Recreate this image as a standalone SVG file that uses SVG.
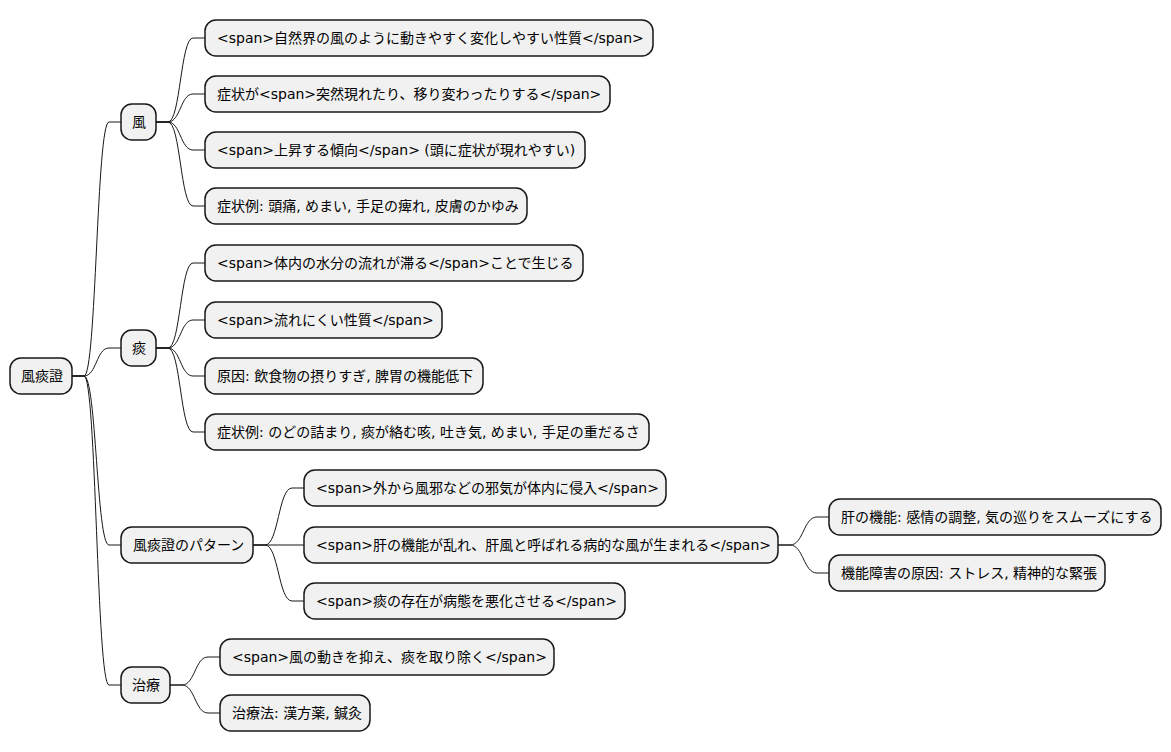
<svg xmlns="http://www.w3.org/2000/svg" width="1171" height="752" viewBox="0 0 1171 752">
<style>
.n rect{fill:#F1F1F1;stroke:#181818;stroke-width:1.5}
.n text{font-family:"DejaVu Sans","Noto Sans CJK JP",sans-serif;font-size:14px;fill:#000}
#edges path{fill:none;stroke:#181818;stroke-width:1}
</style>
<rect width="1171" height="752" fill="#FFFFFF"/>
<g id="edges">
<path d="M72,376 L84,376 C96.5,376 96.5,122 109,122 L121,122"/>
<path d="M72,376 L84,376 C96.5,376 96.5,348 109,348 L121,348"/>
<path d="M72,376 L84,376 C96.5,376 96.5,545 109,545 L121,545"/>
<path d="M72,376 L84,376 C96.5,376 96.5,685 109,685 L121,685"/>
<path d="M156,122 L168,122 C180.5,122 180.5,38 193,38 L205,38"/>
<path d="M156,122 L168,122 C180.5,122 180.5,94 193,94 L205,94"/>
<path d="M156,122 L168,122 C180.5,122 180.5,150 193,150 L205,150"/>
<path d="M156,122 L168,122 C180.5,122 180.5,206 193,206 L205,206"/>
<path d="M156,348 L168,348 C180.5,348 180.5,263 193,263 L205,263"/>
<path d="M156,348 L168,348 C180.5,348 180.5,320 193,320 L205,320"/>
<path d="M156,348 L168,348 C180.5,348 180.5,376 193,376 L205,376"/>
<path d="M156,348 L168,348 C180.5,348 180.5,432 193,432 L205,432"/>
<path d="M253,545 L265,545 C278.5,545 278.5,488 292,488 L304,488"/>
<path d="M253,545 L304,545"/>
<path d="M253,545 L265,545 C278.5,545 278.5,601 292,601 L304,601"/>
<path d="M778,545 L790,545 C803.5,545 803.5,517 817,517 L829,517"/>
<path d="M778,545 L790,545 C803.5,545 803.5,573 817,573 L829,573"/>
<path d="M170,685 L182,685 C195,685 195,657 208,657 L220,657"/>
<path d="M170,685 L182,685 C195,685 195,713 208,713 L220,713"/>
</g>
<g id="root" class="n"><rect x="10" y="358" width="62" height="36" rx="11"/><text x="21" y="381">風痰證</text></g>
<g id="fu" class="n"><rect x="121" y="104" width="35" height="36" rx="11"/><text x="132" y="127">風</text></g>
<g id="fu1" class="n"><rect x="205" y="20" width="448" height="36" rx="11"/><text x="217" y="43">&lt;span&gt;自然界の風のように動きやすく変化しやすい性質&lt;/span&gt;</text></g>
<g id="fu2" class="n"><rect x="205" y="76" width="405" height="36" rx="11"/><text x="217" y="99">症状が&lt;span&gt;突然現れたり、移り変わったりする&lt;/span&gt;</text></g>
<g id="fu3" class="n"><rect x="205" y="132" width="380" height="36" rx="11"/><text x="217" y="155">&lt;span&gt;上昇する傾向&lt;/span&gt; (頭に症状が現れやすい)</text></g>
<g id="fu4" class="n"><rect x="205" y="188" width="322" height="36" rx="11"/><text x="217" y="211">症状例: 頭痛, めまい, 手足の痺れ, 皮膚のかゆみ</text></g>
<g id="tan" class="n"><rect x="121" y="330" width="35" height="36" rx="11"/><text x="132" y="353">痰</text></g>
<g id="tan1" class="n"><rect x="205" y="245" width="378" height="36" rx="11"/><text x="217" y="268">&lt;span&gt;体内の水分の流れが滞る&lt;/span&gt;ことで生じる</text></g>
<g id="tan2" class="n"><rect x="205" y="302" width="237" height="36" rx="11"/><text x="217" y="325">&lt;span&gt;流れにくい性質&lt;/span&gt;</text></g>
<g id="tan3" class="n"><rect x="205" y="358" width="278" height="36" rx="11"/><text x="217" y="381">原因: 飲食物の摂りすぎ, 脾胃の機能低下</text></g>
<g id="tan4" class="n"><rect x="205" y="414" width="444" height="36" rx="11"/><text x="217" y="437">症状例: のどの詰まり, 痰が絡む咳, 吐き気, めまい, 手足の重だるさ</text></g>
<g id="pat" class="n"><rect x="121" y="527" width="132" height="36" rx="11"/><text x="133" y="550">風痰證のパターン</text></g>
<g id="pat1" class="n"><rect x="304" y="470" width="362" height="36" rx="11"/><text x="316" y="493">&lt;span&gt;外から風邪などの邪気が体内に侵入&lt;/span&gt;</text></g>
<g id="pat2" class="n"><rect x="304" y="527" width="474" height="36" rx="11"/><text x="316" y="550">&lt;span&gt;肝の機能が乱れ、肝風と呼ばれる病的な風が生まれる&lt;/span&gt;</text></g>
<g id="pat21" class="n"><rect x="829" y="499" width="332" height="36" rx="11"/><text x="841" y="522">肝の機能: 感情の調整, 気の巡りをスムーズにする</text></g>
<g id="pat22" class="n"><rect x="829" y="555" width="276" height="36" rx="11"/><text x="841" y="578">機能障害の原因: ストレス, 精神的な緊張</text></g>
<g id="pat3" class="n"><rect x="304" y="583" width="321" height="36" rx="11"/><text x="316" y="606">&lt;span&gt;痰の存在が病態を悪化させる&lt;/span&gt;</text></g>
<g id="chi" class="n"><rect x="121" y="667" width="49" height="36" rx="11"/><text x="132" y="690">治療</text></g>
<g id="chi1" class="n"><rect x="220" y="639" width="334" height="36" rx="11"/><text x="232" y="662">&lt;span&gt;風の動きを抑え、痰を取り除く&lt;/span&gt;</text></g>
<g id="chi2" class="n"><rect x="220" y="695" width="150" height="36" rx="11"/><text x="232" y="718">治療法: 漢方薬, 鍼灸</text></g>
</svg>
